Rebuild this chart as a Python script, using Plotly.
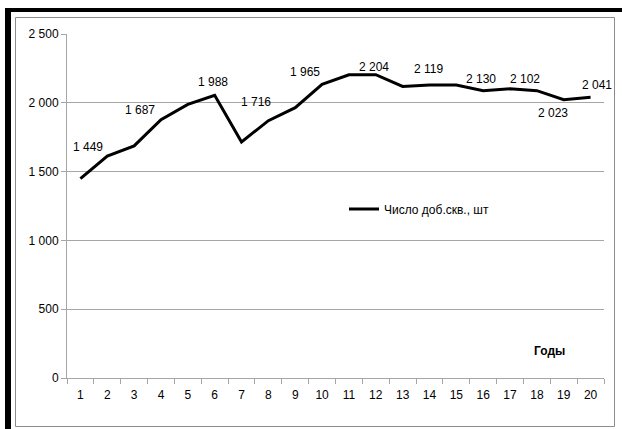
import plotly.graph_objects as go

# ---- data ----
years = [str(i) for i in range(1, 21)]
wells = [1449, 1613, 1687, 1878, 1988, 2055, 1716, 1870, 1965, 2134,
         2204, 2204, 2119, 2130, 2130, 2088, 2102, 2088, 2023, 2041]
labeled_idx = [0, 2, 4, 6, 8, 10, 12, 14, 16, 18, 19]
label_shift = [(8, 32), (6, 36), (25, 22), (14, 40), (10, 36), (25, 8),
               (26, 17), (25, 6), (15, 10), (-11, -13), (6, 12)]
y_ticks = [0, 500, 1000, 1500, 2000, 2500]
series_name = "Число доб.скв., шт"
x_title = "Годы"

W, H = 622, 429
ML, MR, MT, MB = 67, 18, 34, 51
PW, PH = W - ML - MR, H - MT - MB


def px(x):
    return (x - ML) / PW


def py(y):
    return (H - MB - y) / PH


def fmt(v):
    return f"{v:,}".replace(",", " ")


FONT = "Liberation Sans, Arial, sans-serif"
GRID = "#a6a6a6"

fig = go.Figure()
fig.add_trace(go.Scatter(
    x=years, y=wells, mode="lines", name=series_name,
    line=dict(color="black", width=3), showlegend=True,
))

annotations = []
for i, (dx, dy) in zip(labeled_idx, label_shift):
    annotations.append(dict(
        x=i, y=wells[i], xref="x", yref="y", text=fmt(wells[i]),
        showarrow=False, xshift=dx, yshift=dy, xanchor="center", yanchor="middle",
        font=dict(family=FONT, size=12, color="black"),
    ))
annotations.append(dict(
    x=px(549), y=py(351), xref="paper", yref="paper", text="<b>" + x_title + "</b>",
    showarrow=False, xanchor="center", yanchor="middle",
    font=dict(family=FONT, size=12, color="black"),
))

shapes = [
    # grey chart-area frame
    dict(type="rect", xref="paper", yref="paper",
         x0=px(15.5), x1=px(614.5), y0=py(426.5), y1=py(17.5),
         line=dict(color="#8c8c8c", width=1), layer="below"),
    # thick black outer border (top and left)
    dict(type="rect", xref="paper", yref="paper",
         x0=px(5), x1=px(640), y0=py(8), y1=py(12),
         fillcolor="black", line=dict(width=0)),
    dict(type="rect", xref="paper", yref="paper",
         x0=px(5), x1=px(11), y0=py(8), y1=py(440),
         fillcolor="black", line=dict(width=0)),
]

fig.update_layout(
    width=W, height=H,
    margin=dict(l=ML, r=MR, t=MT, b=MB, pad=0),
    paper_bgcolor="white", plot_bgcolor="white",
    font=dict(family=FONT, size=12, color="black"),
    separators=", ",
    showlegend=True,
    legend=dict(x=px(344), y=py(209), xanchor="left", yanchor="middle",
                bgcolor="rgba(0,0,0,0)", font=dict(family=FONT, size=12, color="black"),
                itemwidth=30),
    annotations=annotations,
    shapes=shapes,
)
fig.update_xaxes(
    type="category", range=[-0.5, len(years) - 0.5],
    tickson="boundaries", ticks="outside", ticklen=5,
    tickcolor=GRID, showline=True, linecolor=GRID, linewidth=1,
    showgrid=False, zeroline=False, tickfont=dict(family=FONT, size=12, color="black"),
    ticklabelstandoff=6,
)
fig.update_yaxes(
    range=[0, 2500], tickvals=y_ticks, ticktext=[fmt(v) for v in y_ticks],
    ticks="outside", ticklen=5, tickcolor=GRID,
    showline=True, linecolor=GRID, linewidth=1,
    showgrid=True, gridcolor=GRID, gridwidth=1, zeroline=False,
    tickfont=dict(family=FONT, size=12, color="black"),
)

fig.write_html("out.html")
